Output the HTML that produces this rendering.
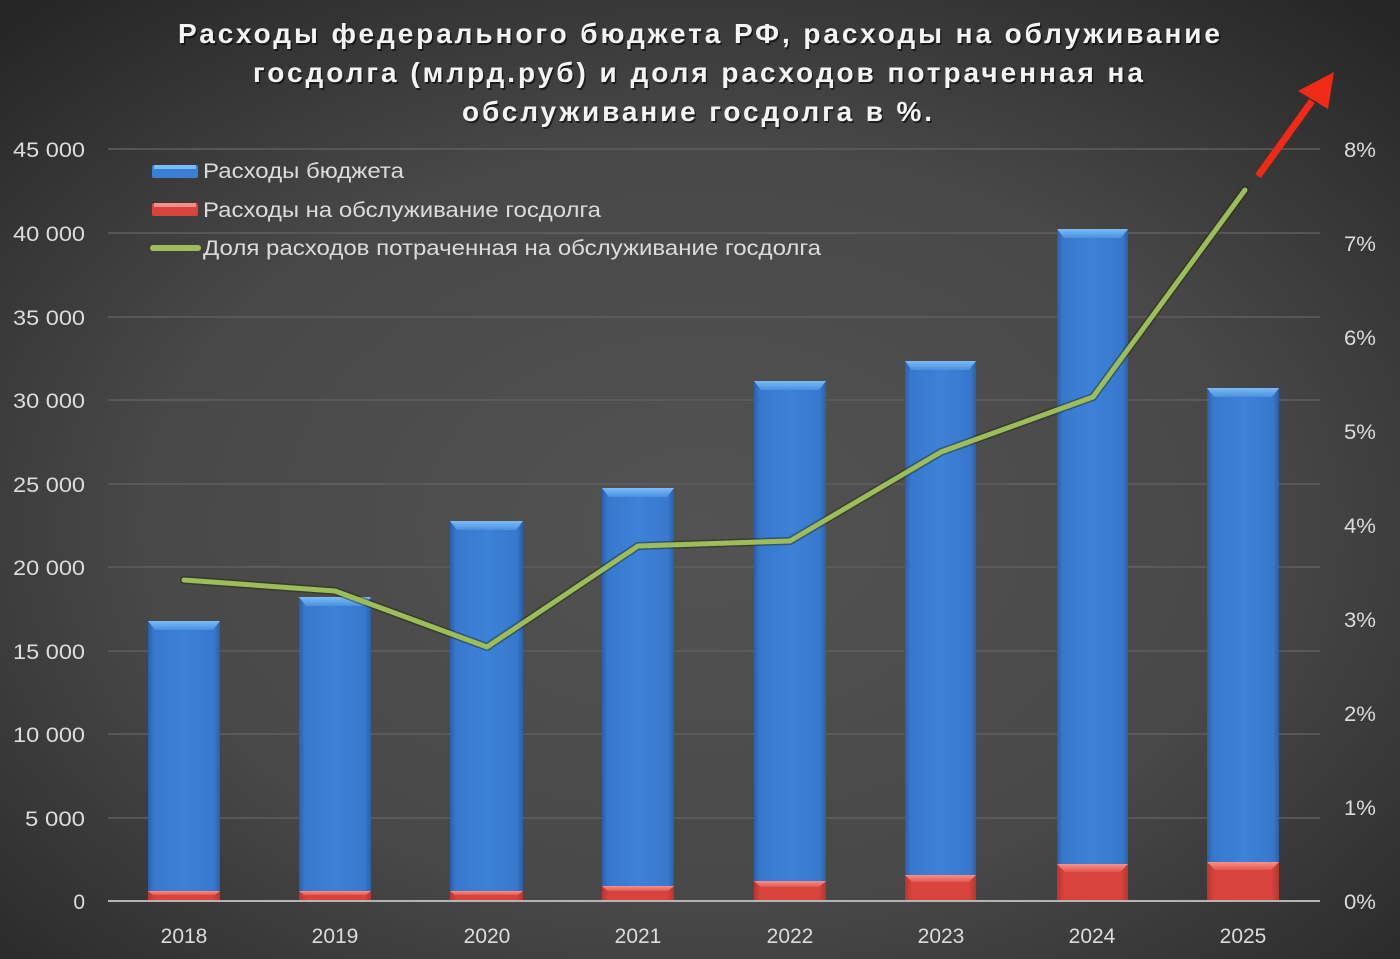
<!DOCTYPE html>
<html><head><meta charset="utf-8"><style>
html,body{margin:0;padding:0;background:#333;}
svg{display:block;}
</style></head><body>
<svg width="1400" height="959" viewBox="0 0 1400 959" xmlns="http://www.w3.org/2000/svg">
<defs>
<radialGradient id="bg" cx="50%" cy="55%" r="72%">
<stop offset="0" stop-color="#535353"/>
<stop offset="0.55" stop-color="#484848"/>
<stop offset="1" stop-color="#262626"/>
</radialGradient>
<linearGradient id="blue" x1="0" x2="1" y1="0" y2="0">
<stop offset="0" stop-color="#2a5fa8"/>
<stop offset="0.08" stop-color="#3878cc"/>
<stop offset="0.5" stop-color="#3c82d8"/>
<stop offset="0.92" stop-color="#3878cc"/>
<stop offset="1" stop-color="#2a5fa8"/>
</linearGradient>
<linearGradient id="bluetop" x1="0" x2="0" y1="0" y2="1">
<stop offset="0" stop-color="#7cbcf4"/>
<stop offset="1" stop-color="#4a90e0"/>
</linearGradient>
<linearGradient id="red" x1="0" x2="1" y1="0" y2="0">
<stop offset="0" stop-color="#b83530"/>
<stop offset="0.1" stop-color="#d8433c"/>
<stop offset="0.9" stop-color="#d8433c"/>
<stop offset="1" stop-color="#b83530"/>
</linearGradient>
<linearGradient id="redtop" x1="0" x2="0" y1="0" y2="1">
<stop offset="0" stop-color="#f7908a"/>
<stop offset="1" stop-color="#e05850"/>
</linearGradient>
</defs>
<rect x="0" y="0" width="1400" height="959" fill="url(#bg)"/>

<g stroke="#5f5f5f" stroke-width="1.5">
<line x1="108" y1="149" x2="1320" y2="149"/>
<line x1="108" y1="233" x2="1320" y2="233"/>
<line x1="108" y1="317" x2="1320" y2="317"/>
<line x1="108" y1="400" x2="1320" y2="400"/>
<line x1="108" y1="484" x2="1320" y2="484"/>
<line x1="108" y1="567" x2="1320" y2="567"/>
<line x1="108" y1="651" x2="1320" y2="651"/>
<line x1="108" y1="734" x2="1320" y2="734"/>
<line x1="108" y1="818" x2="1320" y2="818"/>
</g>

<g>
<rect x="148" y="621" width="72" height="280" fill="url(#blue)"/>
<polygon points="148,621 220,621 213,630 155,630" fill="url(#bluetop)"/>
<rect x="299" y="597" width="72" height="304" fill="url(#blue)"/>
<polygon points="299,597 371,597 364,606 306,606" fill="url(#bluetop)"/>
<rect x="450" y="521" width="73" height="380" fill="url(#blue)"/>
<polygon points="450,521 523,521 516,530 457,530" fill="url(#bluetop)"/>
<rect x="602" y="488" width="72" height="413" fill="url(#blue)"/>
<polygon points="602,488 674,488 667,497 609,497" fill="url(#bluetop)"/>
<rect x="754" y="381" width="72" height="520" fill="url(#blue)"/>
<polygon points="754,381 826,381 819,390 761,390" fill="url(#bluetop)"/>
<rect x="905" y="361" width="71" height="540" fill="url(#blue)"/>
<polygon points="905,361 976,361 969,370 912,370" fill="url(#bluetop)"/>
<rect x="1057" y="229" width="71" height="672" fill="url(#blue)"/>
<polygon points="1057,229 1128,229 1121,238 1064,238" fill="url(#bluetop)"/>
<rect x="1207" y="388" width="72" height="513" fill="url(#blue)"/>
<polygon points="1207,388 1279,388 1272,397 1214,397" fill="url(#bluetop)"/>
</g>
<g>
<rect x="148" y="891" width="72" height="10" fill="url(#red)"/>
<polygon points="148,891 220,891 215,895 153,895" fill="url(#redtop)"/>
<rect x="299" y="891" width="72" height="10" fill="url(#red)"/>
<polygon points="299,891 371,891 366,895 304,895" fill="url(#redtop)"/>
<rect x="450" y="891" width="73" height="10" fill="url(#red)"/>
<polygon points="450,891 523,891 518,895 455,895" fill="url(#redtop)"/>
<rect x="602" y="886" width="72" height="15" fill="url(#red)"/>
<polygon points="602,886 674,886 668,891 608,891" fill="url(#redtop)"/>
<rect x="754" y="881" width="72" height="20" fill="url(#red)"/>
<polygon points="754,881 826,881 819,887 761,887" fill="url(#redtop)"/>
<rect x="905" y="875" width="71" height="26" fill="url(#red)"/>
<polygon points="905,875 976,875 969,882 912,882" fill="url(#redtop)"/>
<rect x="1057" y="864" width="71" height="37" fill="url(#red)"/>
<polygon points="1057,864 1128,864 1120,872 1065,872" fill="url(#redtop)"/>
<rect x="1207" y="862" width="72" height="39" fill="url(#red)"/>
<polygon points="1207,862 1279,862 1271,870 1215,870" fill="url(#redtop)"/>
</g>

<line x1="108" y1="901" x2="1320" y2="901" stroke="#b4b4b4" stroke-width="2"/>

<polyline points="184,580 335,591 487,647 638,546 790,541 941,452 1093,397 1245,190" fill="none" stroke="rgba(30,40,10,0.45)" stroke-width="8" stroke-linejoin="round" stroke-linecap="round"/>
<polyline points="184,580 335,591 487,647 638,546 790,541 941,452 1093,397 1245,190" fill="none" stroke="#9dbd5a" stroke-width="5" stroke-linejoin="round" stroke-linecap="round"/>

<line x1="1258" y1="176" x2="1312" y2="101" stroke="#f02a14" stroke-width="7" stroke-linecap="butt"/>
<polygon points="1334,72 1298,91 1328,109" fill="#f02a14"/>

<g font-family="'Liberation Sans','Noto Sans CJK SC',sans-serif" font-weight="bold" font-size="28" text-anchor="start">
<g fill="#000" opacity="0.55" transform="translate(1.5,2)">
<text x="178" y="43" textLength="1042" lengthAdjust="spacing">Расходы федерального бюджета РФ, расходы на облуживание</text>
<text x="253" y="82" textLength="890" lengthAdjust="spacing">госдолга (млрд.руб) и доля расходов потраченная на</text>
<text x="462" y="121" textLength="470" lengthAdjust="spacing">обслуживание госдолга в %.</text>
</g>
<g fill="#f4f4f4">
<text x="178" y="43" textLength="1042" lengthAdjust="spacing">Расходы федерального бюджета РФ, расходы на облуживание</text>
<text x="253" y="82" textLength="890" lengthAdjust="spacing">госдолга (млрд.руб) и доля расходов потраченная на</text>
<text x="462" y="121" textLength="470" lengthAdjust="spacing">обслуживание госдолга в %.</text>
</g>
</g>

<g font-family="'Liberation Sans',sans-serif" font-size="21" fill="#dcdcdc" text-anchor="end">
<text x="85" y="157" textLength="72" lengthAdjust="spacingAndGlyphs">45 000</text>
<text x="85" y="241" textLength="72" lengthAdjust="spacingAndGlyphs">40 000</text>
<text x="85" y="325" textLength="72" lengthAdjust="spacingAndGlyphs">35 000</text>
<text x="85" y="408" textLength="72" lengthAdjust="spacingAndGlyphs">30 000</text>
<text x="85" y="492" textLength="72" lengthAdjust="spacingAndGlyphs">25 000</text>
<text x="85" y="575" textLength="72" lengthAdjust="spacingAndGlyphs">20 000</text>
<text x="85" y="659" textLength="72" lengthAdjust="spacingAndGlyphs">15 000</text>
<text x="85" y="742" textLength="72" lengthAdjust="spacingAndGlyphs">10 000</text>
<text x="85" y="826" textLength="60" lengthAdjust="spacingAndGlyphs">5 000</text>
<text x="85" y="909">0</text>
</g>

<g font-family="'Liberation Sans',sans-serif" font-size="21" fill="#dcdcdc" text-anchor="start">
<text x="1344" y="157" textLength="32" lengthAdjust="spacingAndGlyphs">8%</text>
<text x="1344" y="251" textLength="32" lengthAdjust="spacingAndGlyphs">7%</text>
<text x="1344" y="345" textLength="32" lengthAdjust="spacingAndGlyphs">6%</text>
<text x="1344" y="439" textLength="32" lengthAdjust="spacingAndGlyphs">5%</text>
<text x="1344" y="533" textLength="32" lengthAdjust="spacingAndGlyphs">4%</text>
<text x="1344" y="627" textLength="32" lengthAdjust="spacingAndGlyphs">3%</text>
<text x="1344" y="721" textLength="32" lengthAdjust="spacingAndGlyphs">2%</text>
<text x="1344" y="815" textLength="32" lengthAdjust="spacingAndGlyphs">1%</text>
<text x="1344" y="909" textLength="32" lengthAdjust="spacingAndGlyphs">0%</text>
</g>

<g font-family="'Liberation Sans',sans-serif" font-size="21" fill="#dcdcdc" text-anchor="middle">
<text x="184" y="943">2018</text>
<text x="335" y="943">2019</text>
<text x="487" y="943">2020</text>
<text x="638" y="943">2021</text>
<text x="790" y="943">2022</text>
<text x="941" y="943">2023</text>
<text x="1092" y="943">2024</text>
<text x="1243" y="943">2025</text>
</g>

<rect x="152" y="165" width="46" height="13" rx="2" fill="#3a7fd5"/>
<rect x="154" y="165" width="42" height="4" fill="#7cbcf4"/>
<rect x="152" y="203" width="46" height="13" rx="2" fill="#d8433c"/>
<rect x="154" y="203" width="42" height="4" fill="#f7908a"/>
<line x1="153" y1="248" x2="198" y2="248" stroke="#9dbd5a" stroke-width="6" stroke-linecap="round"/>
<g font-family="'Liberation Sans',sans-serif" font-size="21" fill="#dcdcdc">
<text x="203" y="178" textLength="201" lengthAdjust="spacingAndGlyphs">Расходы бюджета</text>
<text x="203" y="217" textLength="398" lengthAdjust="spacingAndGlyphs">Расходы на обслуживание госдолга</text>
<text x="203" y="255" textLength="618" lengthAdjust="spacingAndGlyphs">Доля расходов потраченная на обслуживание госдолга</text>
</g>
</svg>
</body></html>
